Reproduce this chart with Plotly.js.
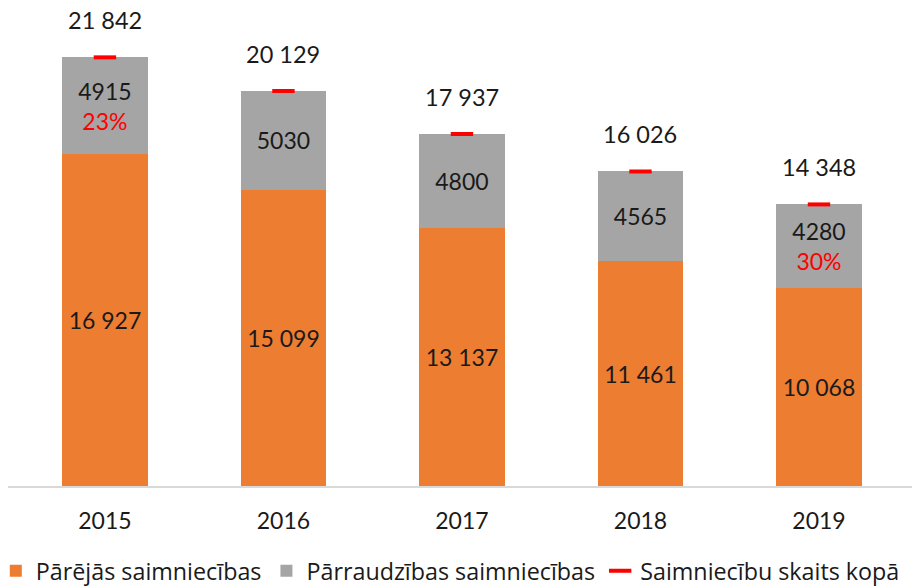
<!DOCTYPE html>
<html>
<head>
<meta charset="utf-8">
<script src="https://cdn.plot.ly/plotly-3.0.1.min.js"></script>
<style>html,body{margin:0;padding:0;background:#fff;}#chart{width:919px;height:586px;}</style>
</head>
<body>
<div id="chart"></div>
<script>
var years = ['2015', '2016', '2017', '2018', '2019'];
var otherFarms = [16927, 15099, 13137, 11461, 10068];
var supervisedFarms = [4915, 5030, 4800, 4565, 4280];
var totalFarms = [21842, 20129, 17937, 16026, 14348];
var shareLabels = ['23%', '', '', '', '30%'];
var seriesNames = ['Pārējās saimniecības', 'Pārraudzības saimniecības', 'Saimniecību skaits kopā'];

function fmt(n) { return String(n).replace(/\B(?=(\d{3})+(?!\d))/g, ' '); }

var FONT = 'Lato, "Open Sans", sans-serif';
var LFONT = '"Open Sans", Lato, sans-serif';
var TXT = '#1a1a1a';

var grayText = supervisedFarms.map(function (v, i) {
  return shareLabels[i] ? (String(v) + '<br><span style="color:#ff0000">' + shareLabels[i] + '</span>') : String(v);
});

var traces = [
  {
    type: 'bar', name: seriesNames[0], x: years, y: otherFarms,
    marker: { color: '#ED7D31' },
    text: otherFarms.map(fmt), textposition: 'inside', insidetextanchor: 'middle',
    textfont: { family: FONT, size: 23, color: TXT }, constraintext: 'none',
    hoverinfo: 'skip'
  },
  {
    type: 'bar', name: seriesNames[1], x: years, y: supervisedFarms,
    marker: { color: '#A5A5A5' },
    text: grayText, textposition: 'inside', insidetextanchor: 'middle',
    textfont: { family: FONT, size: 23, color: TXT }, constraintext: 'none',
    hoverinfo: 'skip'
  },
  {
    type: 'scatter', mode: 'markers', name: seriesNames[2], x: years, y: totalFarms,
    marker: { symbol: 'line-ew', size: 16, color: '#ff0000', line: { color: '#ff0000', width: 4 } },
    hoverinfo: 'skip'
  }
];

var annotations = years.map(function (yr, i) {
  return {
    x: i, y: totalFarms[i], xref: 'x', yref: 'y', text: fmt(totalFarms[i]),
    showarrow: false, yshift: 37, font: { family: FONT, size: 23.5, color: TXT }
  };
});

var layout = {
  width: 919, height: 586,
  margin: { l: 8, r: 7, t: 15, b: 100, autoexpand: false },
  paper_bgcolor: '#ffffff', plot_bgcolor: '#ffffff',
  barmode: 'stack', bargap: 0.52,
  showlegend: true,
  legend: {
    orientation: 'h', x: -0.0135, xanchor: 'left', y: -0.1805, yanchor: 'middle',
    font: { family: LFONT, size: 23.3, color: TXT }, itemwidth: 30, tracegroupgap: 0,
    traceorder: 'normal'
  },
  xaxis: {
    type: 'category', range: [-0.543, 4.521], showgrid: false, zeroline: false,
    showline: true, linecolor: '#d9d9d9', linewidth: 2,
    ticks: '', tickfont: { family: FONT, size: 23, color: TXT }, ticklabelstandoff: 13
  },
  yaxis: {
    range: [0, 24000], visible: false, showgrid: false, zeroline: false
  },
  annotations: annotations
};

Plotly.newPlot('chart', traces, layout, { displayModeBar: false, staticPlot: true });
</script>
</body>
</html>
